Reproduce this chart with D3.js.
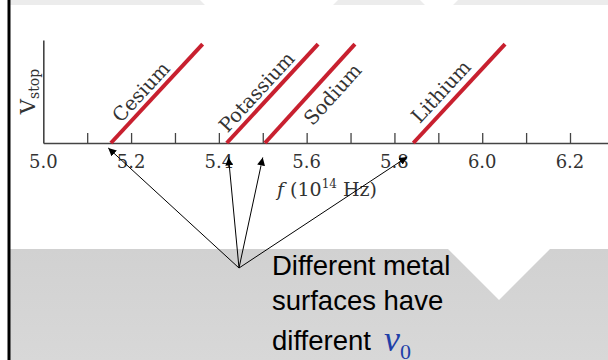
<!DOCTYPE html>
<html>
<head>
<meta charset="utf-8">
<script src="https://cdn.jsdelivr.net/npm/d3@7"></script>
<style>
  html, body { margin: 0; padding: 0; background: #fff; }
  svg { display: block; }
</style>
</head>
<body>
<script>
// Canvas setup
const canvasWidth = 608;
const canvasHeight = 360;

// Data
const metals = ["Cesium", "Potassium", "Sodium", "Lithium"];
const cutoffFreq = [5.154, 5.418, 5.505, 5.843];   // f where V_stop = 0
const topFreq = [5.363, 5.626, 5.71, 6.052];       // f at the upper end of each line
const topVstop = [0.96, 0.96, 0.96, 0.96];         // arbitrary units
const arrowFreq = [5.148, 5.422, 5.50, 5.829];
const tickValues = [5.1, 5.2, 5.3, 5.4, 5.5, 5.6, 5.7, 5.8, 5.9, 6.0, 6.1, 6.2];
const labelValues = [5.0, 5.2, 5.4, 5.6, 5.8, 6.0, 6.2];
const noteLines = ["Different metal", "surfaces have", "different"];

const svg = d3.select('body')
    .append('svg')
    .attr('width', canvasWidth)
    .attr('height', canvasHeight);

// slide decoration: bottom panel, top strip, left rule
const defs = svg.append('defs');
const grad = defs.append('linearGradient')
    .attr('id', 'panel').attr('x1', 0).attr('y1', 0).attr('x2', 0).attr('y2', 1);
grad.append('stop').attr('offset', '0%').attr('stop-color', '#d1d1d1');
grad.append('stop').attr('offset', '100%').attr('stop-color', '#d8d8d8');

svg.append('path')
    .attr('d', 'M10,249 L448,249 L499,300 L550,249 L608,249 L608,360 L10,360 Z')
    .attr('fill', 'url(#panel)');

svg.append('path')
    .attr('d', 'M10,0 L608,0 L608,5 L10,5 Z')
    .attr('fill', '#ececec');
svg.append('path')
    .attr('d', 'M200,0 L338,0 L333,5 L205,5 Z M420,0 L458,0 L453,5 L425,5 Z')
    .attr('fill', '#fff');

svg.append('line')
    .attr('x1', 9).attr('x2', 9).attr('y1', 0).attr('y2', canvasHeight)
    .attr('stroke', '#000').attr('stroke-width', 3);

// Scales
const xScale = d3.scaleLinear()
    .domain([5.0, 6.2])
    .range([43.3, 570]);
const xMax = xScale.invert(canvasWidth);

const yScale = d3.scaleLinear()
    .domain([0, 1])
    .range([143, 40]);

const axisColor = '#444';
const textColor = '#333';

// x axis: minor ticks pointing up, labels below
const xAxis = svg.append('g')
    .attr('transform', `translate(0,${yScale(0)})`)
    .call(d3.axisBottom(xScale.copy().domain([5.0, xMax]).range([43.3, canvasWidth]))
        .tickValues(tickValues)
        .tickSize(-10)
        .tickSizeOuter(0)
        .tickFormat(''));
xAxis.select('.domain').attr('stroke', axisColor).attr('stroke-width', 1.6);
xAxis.selectAll('.tick line').attr('stroke', axisColor).attr('stroke-width', 1.3);

svg.append('g')
    .selectAll('text')
    .data(labelValues)
    .join('text')
    .attr('x', d => xScale(d))
    .attr('y', yScale(0) + 25)
    .attr('text-anchor', 'middle')
    .attr('font-family', 'DejaVu Serif')
    .attr('font-size', 18)
    .attr('fill', textColor)
    .text(d => d.toFixed(1));

// y axis: plain line
const yAxis = svg.append('g')
    .attr('transform', `translate(${xScale(5.0)},0)`)
    .call(d3.axisLeft(yScale).tickValues([]).tickSizeOuter(0));
yAxis.select('.domain').attr('stroke', axisColor).attr('stroke-width', 1.6);

// axis titles
const yTitle = svg.append('text')
    .attr('transform', `translate(35,${yScale(0.5)}) rotate(-90)`)
    .attr('text-anchor', 'middle')
    .attr('font-family', 'DejaVu Serif')
    .attr('font-size', 21)
    .attr('fill', textColor);
yTitle.append('tspan').text('V');
yTitle.append('tspan').attr('font-size', 14).attr('dy', 4).text('stop');

const xTitle = svg.append('text')
    .attr('x', 327)
    .attr('y', 196)
    .attr('text-anchor', 'middle')
    .attr('font-family', 'DejaVu Serif')
    .attr('font-size', 19)
    .attr('fill', textColor);
xTitle.append('tspan').attr('font-style', 'italic').text('f');
xTitle.append('tspan').text(' (10');
xTitle.append('tspan').attr('font-size', 12).attr('dy', -8).text('14');
xTitle.append('tspan').attr('dy', 8).text(' Hz)');

// stopping-potential lines
const lineData = metals.map((m, i) => ({
    name: m,
    pts: [[cutoffFreq[i], 0], [topFreq[i], topVstop[i]]]
}));

const curveFn = d3.line()
    .x(d => xScale(d[0]))
    .y(d => yScale(d[1]));

svg.append('g')
    .selectAll('path')
    .data(lineData)
    .join('path')
    .attr('d', d => curveFn(d.pts))
    .attr('stroke', '#c8202f')
    .attr('stroke-width', 4)
    .attr('fill', 'none');

// metal labels, parallel to the lines (baseline offset from the line, position along it)
const labelOffset = [-6, -6, 24, -8];
const labelAlong = [0.43, 0.43, 0.61, 0.42];
svg.append('g')
    .selectAll('text')
    .data(lineData)
    .join('text')
    .attr('transform', (d, i) => {
        const x0 = xScale(d.pts[0][0]), y0 = yScale(d.pts[0][1]);
        const x1 = xScale(d.pts[1][0]), y1 = yScale(d.pts[1][1]);
        const ang = Math.atan2(y1 - y0, x1 - x0);
        // normal pointing to lower-right
        const nx = -Math.sin(ang), ny = Math.cos(ang);
        const t = labelAlong[i];
        const cx = x0 + (x1 - x0) * t + nx * labelOffset[i];
        const cy = y0 + (y1 - y0) * t + ny * labelOffset[i];
        return `translate(${cx},${cy}) rotate(${ang * 180 / Math.PI})`;
    })
    .attr('text-anchor', 'middle')
    .attr('font-family', 'DejaVu Serif')
    .attr('font-size', 19.5)
    .attr('fill', textColor)
    .text(d => d.name);

// arrows from the note to each cut-off
defs.append('marker')
    .attr('id', 'head')
    .attr('viewBox', '0 0 10 10')
    .attr('refX', 10).attr('refY', 5)
    .attr('markerWidth', 8).attr('markerHeight', 8)
    .attr('markerUnits', 'userSpaceOnUse')
    .attr('orient', 'auto')
    .append('path')
    .attr('d', 'M0,0 L10,5 L0,10 Z')
    .attr('fill', '#000');

const arrowTipY = [148, 157.5, 157.5, 157];
svg.append('g')
    .selectAll('line')
    .data(arrowFreq)
    .join('line')
    .attr('x1', 239).attr('y1', 268)
    .attr('x2', d => xScale(d))
    .attr('y2', (d, i) => arrowTipY[i])
    .attr('stroke', '#000')
    .attr('stroke-width', 1)
    .attr('marker-end', 'url(#head)');

// note text
const note = svg.append('g')
    .attr('font-family', 'Liberation Sans')
    .attr('font-size', 27.5)
    .attr('fill', '#000');
note.selectAll('text')
    .data(noteLines)
    .join('text')
    .attr('x', 272)
    .attr('y', (d, i) => [275, 310, 350][i])
    .text(d => d);

const nu = note.append('text')
    .attr('x', 384)
    .attr('y', 351)
    .attr('font-family', 'Liberation Serif')
    .attr('fill', '#1f3fa8');
nu.append('tspan').attr('font-style', 'italic').attr('font-size', 36).text('ν');
nu.append('tspan').attr('font-size', 22).attr('dy', 8).text('0');
</script>
</body>
</html>
